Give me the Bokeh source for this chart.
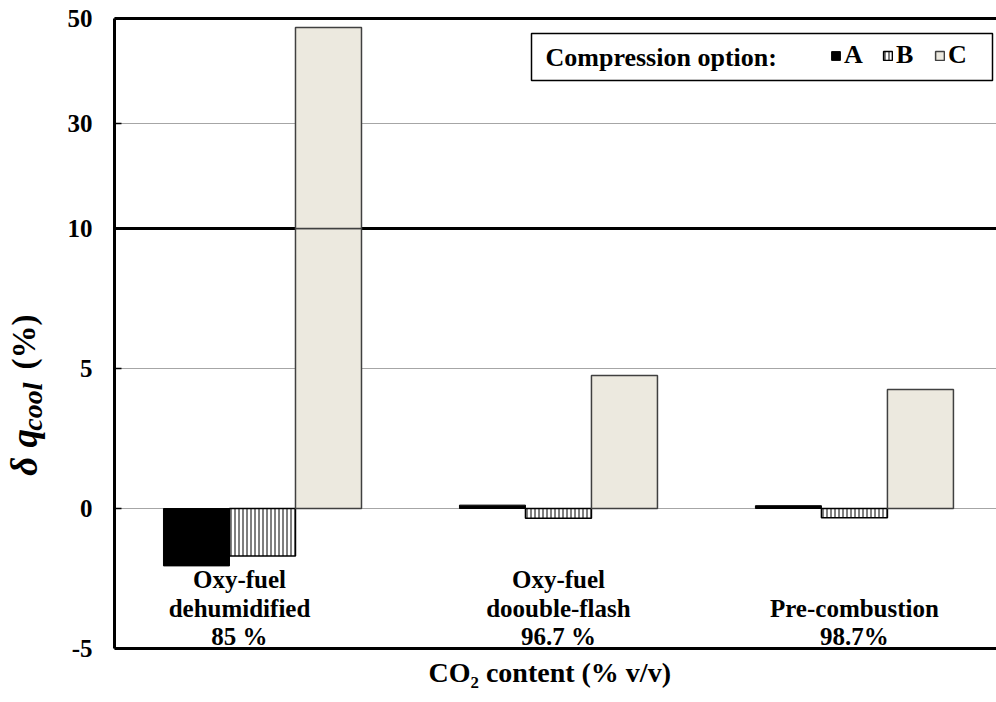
import math
from bokeh.plotting import figure
from bokeh.layouts import row
from bokeh.models import (ColumnDataSource, Range1d, FixedTicker, LinearAxis, Span,
                          Label, Legend, LegendItem, BoxAnnotation, Title)
from bokeh.core.properties import value
from bokeh.embed import file_html
from bokeh.resources import INLINE

# ---------------- data ----------------
categories = ["Oxy-fuel\ndehumidified\n85 %", "Oxy-fuel\ndoouble-flash\n96.7 %", "Pre-combustion\n98.7%"]
series_names = ["A", "B", "C"]
option_A = [-2.05, 0.12, 0.10]
option_B = [-1.70, -0.35, -0.33]
option_C = [48.3, 4.75, 4.25]
y_ticks = [-5, 0, 5, 10, 30, 50]
y_grid_values = [0, 5, 30]
axis_break = 10
x_title = "CO\u2082 content (% v/v)"
legend_title = "Compression option:"

# style: horizontal nudge (px) of each category caption
caption_dx = [-23, 0, 0]

# broken axis: linear below the break, compressed above it
BREAK = 10.0
UPPER_FACTOR = 0.1875


def to_axis(v):
    return v if v <= BREAK else BREAK + (v - BREAK) * UPPER_FACTOR


FONT = "Liberation Serif"
H = 700
LEFT_W = 60

p = figure(width=936, height=H, output_backend="svg", toolbar_location=None,
           x_range=Range1d(-0.5, 2.48), y_range=Range1d(to_axis(-5), to_axis(50)),
           min_border_left=114 - LEFT_W, min_border_right=0, min_border_top=18,
           min_border_bottom=H - 648)
p.outline_line_color = None

# grid
p.xgrid.visible = False
p.ygrid.ticker = FixedTicker(ticks=[to_axis(v) for v in y_grid_values])
p.ygrid.grid_line_color = "#a6a6a6"
p.ygrid.grid_line_width = 1

# break line at 10
p.add_layout(Span(location=to_axis(axis_break), dimension="width", line_color="black",
                  line_width=3, level="underlay"))

# bars
n = len(categories)
bw = 0.223
offsets = [-bw, 0.0, bw]

srcA = ColumnDataSource(dict(x=[i + offsets[0] for i in range(n)],
                             top=[to_axis(max(v, 0)) for v in option_A],
                             bottom=[to_axis(min(v, 0)) for v in option_A]))
srcB = ColumnDataSource(dict(x=[i + offsets[1] for i in range(n)],
                             top=[to_axis(max(v, 0)) for v in option_B],
                             bottom=[to_axis(min(v, 0)) for v in option_B]))
cx, ctop, cbot = [], [], []
for i, v in enumerate(option_C):
    if v > BREAK:
        cx += [i + offsets[2]] * 2
        cbot += [0, BREAK]
        ctop += [BREAK, to_axis(v)]
    else:
        cx.append(i + offsets[2])
        cbot.append(min(v, 0))
        ctop.append(max(v, 0))
srcC = ColumnDataSource(dict(x=cx, top=ctop, bottom=cbot))

rA = p.vbar(x="x", top="top", bottom="bottom", width=bw, source=srcA,
            fill_color="black", line_color="black", line_width=1)
rB = p.vbar(x="x", top="top", bottom="bottom", width=bw, source=srcB,
            fill_color="white", line_color="black", line_width=1.5,
            hatch_pattern="vertical_line", hatch_color="black", hatch_scale=4, hatch_weight=1)
rC = p.vbar(x="x", top="top", bottom="bottom", width=bw, source=srcC,
            fill_color="#ecE9df", line_color="#404040", line_width=1.5)

# category captions inside the frame, at the bottom
cat_src = ColumnDataSource(dict(x=list(range(n)), y=[to_axis(-5)] * n, text=categories,
                                dx=caption_dx))
p.text(x="x", y="y", text="text", source=cat_src, x_offset="dx", text_align="center",
       text_baseline="bottom", y_offset=2, text_font=value(FONT), text_font_style="bold",
       text_font_size="25px", text_line_height=1.07, text_color="black")

# axes
yax = p.yaxis[0]
yax.ticker = FixedTicker(ticks=[to_axis(v) for v in y_ticks])
yax.major_label_overrides = {to_axis(v): str(v) for v in y_ticks}
yax.axis_line_width = 3
yax.axis_line_color = "black"
yax.major_tick_in = 7
yax.major_tick_out = 0
yax.major_tick_line_width = 1.5
yax.major_tick_line_color = "black"
yax.minor_tick_line_color = None
yax.major_label_text_font = FONT
yax.major_label_text_font_style = "bold"
yax.major_label_text_font_size = "25px"
yax.major_label_text_color = "black"
yax.major_label_standoff = 22

xax = p.xaxis[0]
xax.ticker = FixedTicker(ticks=[])
xax.axis_line_width = 3
xax.axis_line_color = "black"
xax.major_tick_line_color = None
xax.minor_tick_line_color = None
xax.major_label_text_font_size = "0px"

top_ax = LinearAxis(ticker=FixedTicker(ticks=[]), axis_line_width=3, axis_line_color="black",
                    major_tick_line_color=None, minor_tick_line_color=None,
                    major_label_text_font_size="0px")
p.add_layout(top_ax, "above")

# x axis title
p.add_layout(Title(text=x_title, align="left", offset=314, text_font=FONT, text_color="black",
                   text_font_style="bold", text_font_size="28px", standoff=13), "below")

# legend box
p.add_layout(BoxAnnotation(left=417, right=878, top=615, bottom=568,
                           left_units="screen", right_units="screen",
                           top_units="screen", bottom_units="screen",
                           fill_color="white", fill_alpha=1, line_color="black",
                           line_alpha=1, line_width=1.5, level="annotation"))
p.add_layout(Label(x=431, y=591, x_units="screen", y_units="screen", text=legend_title,
                   text_font=FONT, text_font_style="bold", text_font_size="26px",
                   text_color="black", text_align="left", text_baseline="middle"))

legend = Legend(items=[LegendItem(label=series_names[0], renderers=[rA]),
                       LegendItem(label=series_names[1], renderers=[rB]),
                       LegendItem(label=series_names[2], renderers=[rC])],
                orientation="horizontal", location=(716, 578),
                glyph_width=11, glyph_height=11, label_standoff=3, spacing=18,
                padding=0, margin=0, border_line_color=None, background_fill_alpha=0,
                label_text_font=FONT, label_text_font_style="bold", label_text_font_size="26px",
                label_text_color="black", label_height=26)
p.add_layout(legend)

# left strip holding the y axis title
lf = figure(width=LEFT_W, height=H, output_backend="svg", toolbar_location=None,
            x_axis_location=None, y_axis_location=None, min_border=0, title_location=None,
            x_range=Range1d(0, LEFT_W), y_range=Range1d(0, H))
lf.outline_line_color = None
lf.grid.visible = False
lf.add_layout(Label(x=24, y=H - 508, text="\u03b4 q", angle=math.pi / 2,
                    text_font=FONT, text_font_style="bold italic", text_font_size="37px",
                    text_color="black", text_align="left", text_baseline="alphabetic"))
lf.add_layout(Label(x=32, y=H - 458, text="cool", angle=math.pi / 2,
                    text_font=FONT, text_font_style="bold italic", text_font_size="28px",
                    text_color="black", text_align="left", text_baseline="alphabetic"))
lf.add_layout(Label(x=23, y=H - 390, text="(%)", angle=math.pi / 2,
                    text_font=FONT, text_font_style="bold", text_font_size="33px",
                    text_color="black", text_align="left", text_baseline="alphabetic"))

layout = row(lf, p)
open("out.html", "w").write(file_html(layout, INLINE))
